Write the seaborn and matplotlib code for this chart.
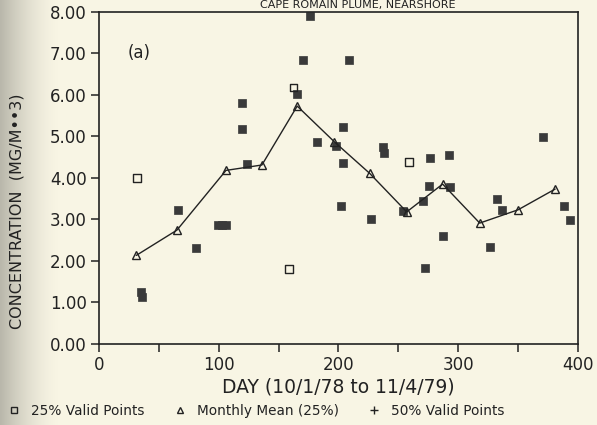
import numpy as np
import pandas as pd
import seaborn as sns
import matplotlib.pyplot as plt
from matplotlib.lines import Line2D
from matplotlib.colors import LinearSegmentedColormap

# values
# 50% valid points (filled markers)
day_50 = [35, 36, 65.5, 81, 99, 103, 106, 119, 119.5, 123.5, 165.5, 170, 176,
          182, 198, 202, 203.5, 204, 209, 227, 237.5, 238, 254, 271, 272, 275.5,
          276.5, 287, 292.5, 293.5, 326.5, 332.5, 336.5, 371, 388, 393]
conc_50 = [1.26, 1.14, 3.23, 2.31, 2.87, 2.87, 2.87, 5.81, 5.17, 4.34, 6.02, 6.83, 7.90,
           4.87, 4.77, 3.31, 5.23, 4.37, 6.84, 3.00, 4.75, 4.59, 3.19, 3.45, 1.82, 3.81,
           4.47, 2.60, 4.55, 3.77, 2.34, 3.49, 3.23, 4.99, 3.33, 2.99]

# 25% valid points (open squares)
day_25 = [31.5, 158.5, 162.5, 259]
conc_25 = [4.00, 1.80, 6.18, 4.38]

# monthly mean (25%)
day_mean = [31, 65, 106, 136, 165.5, 196.5, 226, 257, 287, 318, 350, 381]
conc_mean = [2.13, 2.74, 4.18, 4.31, 5.73, 4.87, 4.11, 3.18, 3.85, 2.91, 3.23, 3.73]

paper = "#f8f5e4"
ink = "#222222"

sns.set_style("ticks")
plt.rcParams["font.family"] = ["DejaVu Sans"]
plt.rcParams["text.color"] = ink
plt.rcParams["axes.labelcolor"] = ink
plt.rcParams["xtick.color"] = ink
plt.rcParams["ytick.color"] = ink

fig = plt.figure(figsize=(5.97, 4.25), dpi=100, facecolor=paper)

# shadow of the book binding along the left edge of the scan
bg = fig.add_axes([0, 0, 1, 1], zorder=-10)
paper_cmap = LinearSegmentedColormap.from_list("paper", [paper, "#b9b7ab"])
shade = np.clip(1 - np.linspace(0, 1, 597) / 0.1, 0, 1) ** 1.6
bg.imshow(np.tile(shade, (10, 1)), cmap=paper_cmap, vmin=0, vmax=1,
          aspect="auto", extent=[0, 1, 0, 1])
bg.set_axis_off()

ax = fig.add_axes([0.166, 0.191, 0.802, 0.781])
ax.patch.set_alpha(0.0)

sns.lineplot(x=day_mean, y=conc_mean, ax=ax, color=ink, linewidth=1.0,
             marker="^", markersize=6, markerfacecolor="none",
             markeredgecolor=ink, markeredgewidth=1.0)
sns.scatterplot(x=day_50, y=conc_50, ax=ax, marker="s", s=34,
                color="#3a3a3a", edgecolor="#3a3a3a", linewidth=0.5)
sns.scatterplot(x=day_25, y=conc_25, ax=ax, marker="s", s=30,
                facecolors="none", edgecolors=ink, linewidth=1.0)

ax.set_xlim(0, 400)
ax.set_ylim(0, 8)
ax.set_xticks([0, 100, 200, 300, 400])
ax.set_xticks([50, 150, 250, 350], minor=True)
ax.set_yticks(np.arange(0, 9, 1))
ax.set_yticklabels([f"{v:.2f}" for v in np.arange(0, 9, 1)])
ax.tick_params(axis="both", which="major", direction="out", length=6, width=1.1,
               labelsize=12, pad=3)
ax.tick_params(axis="x", which="minor", direction="out", length=6, width=1.1)

for s in ax.spines.values():
    s.set_visible(True)
    s.set_linewidth(1.2)
    s.set_color(ink)

ax.set_xlabel("DAY (10/1/78 to 11/4/79)", fontsize=13.5, labelpad=2)
ax.set_ylabel("CONCENTRATION  (MG/M••3)", fontsize=11.5)
ax.yaxis.set_label_coords(-0.155, 0.40)
ax.text(0.06, 0.876, "(a)", transform=ax.transAxes, fontsize=12, va="center")

# title sits at the very top edge of the scan
fig.text(0.6, 0.999, "CAPE ROMAIN PLUME, NEARSHORE", ha="center", va="top",
         fontsize=8)

handles = [
    Line2D([], [], linestyle="none", marker="s", markersize=4.5,
           markerfacecolor="none", markeredgecolor=ink, markeredgewidth=1.0),
    Line2D([], [], linestyle="none", marker="^", markersize=4.5,
           markerfacecolor="none", markeredgecolor=ink, markeredgewidth=1.0),
    Line2D([], [], linestyle="none", marker="+", markersize=5.5,
           markeredgecolor=ink, markeredgewidth=1.0),
]
labels = ["25% Valid Points", "Monthly Mean (25%)", "50% Valid Points"]
fig.legend(handles, labels, loc="center left", bbox_to_anchor=(0.012, 0.033),
           ncol=3, frameon=False, fontsize=9.8, handlelength=1.0,
           handletextpad=0.75, columnspacing=2.1, borderaxespad=0, borderpad=0)

fig.savefig("out.png", dpi=100, facecolor=paper)
